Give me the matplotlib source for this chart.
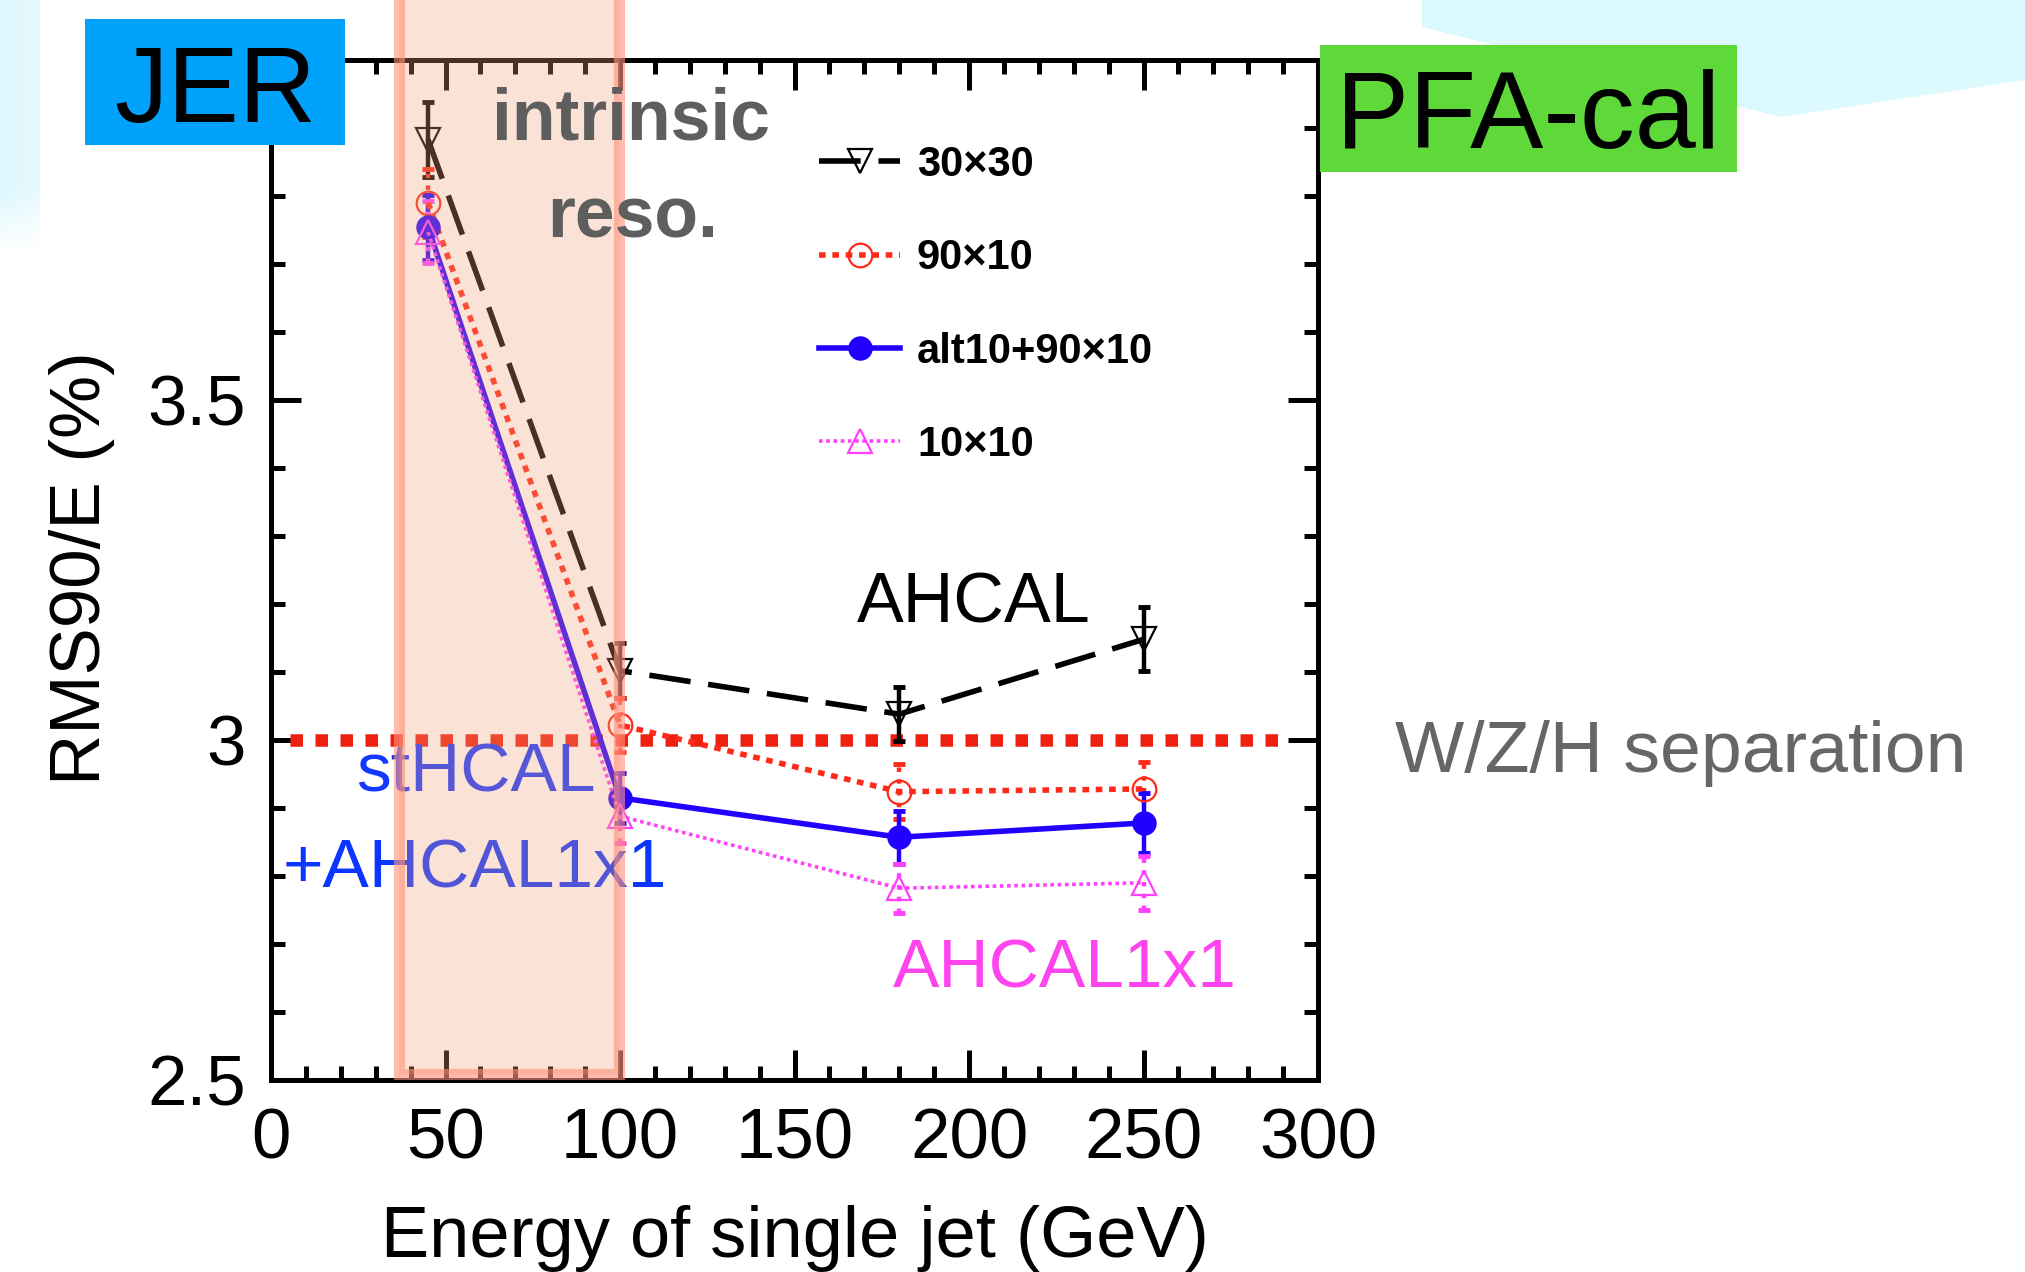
import numpy as np
import matplotlib
matplotlib.use("Agg")
import matplotlib.pyplot as plt
from matplotlib.patches import Rectangle, Polygon
from matplotlib.ticker import MultipleLocator, FixedLocator, FixedFormatter
import matplotlib.transforms as mtransforms

# ---------------- data ----------------
energy = [45, 100, 180, 250]
series_labels = ["30×30", "90×10", "alt10+90×10", "10×10"]
rms_30x30 = [3.883, 3.102, 3.038, 3.148]
err_30x30 = [0.055, 0.040, 0.040, 0.047]
rms_90x10 = [3.790, 3.022, 2.924, 2.928]
err_90x10 = [0.050, 0.040, 0.040, 0.040]
rms_alt10 = [3.754, 2.915, 2.857, 2.878]
err_alt10 = [0.048, 0.037, 0.039, 0.044]
rms_10x10 = [3.747, 2.888, 2.782, 2.790]
err_10x10 = [0.045, 0.040, 0.036, 0.040]

target_value = 3.0
target_span = [5.5, 290]
intrinsic_band = [36.6, 99.7]

xtick_values = [0, 50, 100, 150, 200, 250, 300]
xtick_labels = ["0", "50", "100", "150", "200", "250", "300"]
ytick_values = [2.5, 3.0, 3.5]
ytick_labels = ["2.5", "3", "3.5"]

# ---------------- figure ----------------
W, H = 2025, 1272
DPI = 100
plt.rcParams['font.family'] = ['Liberation Sans', 'DejaVu Sans']

fig = plt.figure(figsize=(W / DPI, H / DPI), dpi=DPI)
fig.patch.set_facecolor('white')


def fx(px):
    return px / W


def fy(py):
    return 1 - py / H


# background decoration
bg = fig.add_axes([0, 0, 1, 1], zorder=-10)
bg.set_xlim(0, W)
bg.set_ylim(H, 0)
bg.axis('off')
img = np.ones((H, W, 4))
img[..., 3] = 0
cols = np.arange(40)
rows = np.arange(250)
gx = 1 - 0.35 * cols / 40
gy = np.clip((250 - rows) / 60, 0, 1)
alpha = np.outer(gy, gx)
img[:250, :40, 0] = 0.86
img[:250, :40, 1] = 0.97
img[:250, :40, 2] = 0.995
img[:250, :40, 3] = alpha
bg.imshow(img, extent=(0, W, H, 0), aspect='auto', interpolation='bilinear')
bg.add_patch(Polygon([(1422, 0), (1422, 27), (1781, 117), (2025, 80), (2025, 0)],
                     closed=True, facecolor='#dcf9fd', edgecolor='none'))

ax_left, ax_right, ax_top, ax_bot = 271, 1318, 60, 1080
ax = fig.add_axes([fx(ax_left), fy(ax_bot), (ax_right - ax_left) / W, (ax_bot - ax_top) / H])
ax.set_xlim(0, 300)
ax.set_ylim(2.5, 4.0)

# target line
ax.plot(target_span, [target_value, target_value], color='#ee2010', lw=9,
        linestyle=(0, (1.0, 1.0)), solid_capstyle='butt', zorder=3)

# series
styles = [
    dict(data=rms_30x30, err=err_30x30, color='black', marker='v', mfc='none', ms=17,
         lw=4.0, ls=(0, (7.5, 3.2)), els='-'),
    dict(data=rms_90x10, err=err_90x10, color='#ff2a1a', marker='o', mfc='none', ms=17,
         lw=4.0, ls=(0, (1.2, 1.2)), els=':'),
    dict(data=rms_alt10, err=err_alt10, color='#2200ff', marker='o', mfc='#2200ff', ms=16,
         lw=4.0, ls='-', els='-'),
    dict(data=rms_10x10, err=err_10x10, color='#ff40ff', marker='^', mfc='none', ms=17,
         lw=2.6, ls=(0, (1, 1)), els=':'),
]
handles = []
for st, lab in zip(styles, series_labels):
    eb = ax.errorbar(energy, st['data'], yerr=st['err'], fmt='none', ecolor=st['color'],
                     elinewidth=3.2, capsize=4, capthick=3.5, zorder=4)
    for lc in eb[2]:
        lc.set_linestyle(st['els'])
    ln, = ax.plot(energy, st['data'], color=st['color'], lw=st['lw'], linestyle=st['ls'],
                  marker=st['marker'], markersize=st['ms'], markerfacecolor=st['mfc'],
                  markeredgecolor=st['color'], markeredgewidth=1.6, label=lab, zorder=5)
    handles.append(ln)

# axes styling
for sp in ax.spines.values():
    sp.set_linewidth(3.6)
ax.xaxis.set_major_locator(FixedLocator(xtick_values))
ax.xaxis.set_major_formatter(FixedFormatter(xtick_labels))
ax.xaxis.set_minor_locator(MultipleLocator(10))
ax.yaxis.set_major_locator(FixedLocator(ytick_values))
ax.yaxis.set_major_formatter(FixedFormatter(ytick_labels))
ax.yaxis.set_minor_locator(MultipleLocator(0.1))
ax.tick_params(which='both', direction='in', top=True, right=True, width=3.6, color='black')
ax.tick_params(which='major', length=21.6, labelsize=51)
ax.tick_params(which='minor', length=10)
ax.tick_params(axis='x', which='major', pad=20)
ax.tick_params(axis='y', which='major', pad=18)

# shaded intrinsic resolution band
trans = mtransforms.blended_transform_factory(ax.transData, ax.transAxes)
shade = Rectangle((intrinsic_band[0], 0.006), intrinsic_band[1] - intrinsic_band[0], 1.3,
                  transform=trans, clip_on=False,
                  facecolor=(240 / 255, 160 / 255, 120 / 255, 0.30),
                  edgecolor=(1.0, 146 / 255, 124 / 255, 0.62), linewidth=8, zorder=10)
ax.add_patch(shade)

# legend
leg = ax.legend(handles=handles, labels=series_labels, loc='upper left',
                bbox_to_anchor=(fx(819), fy(145)), bbox_transform=fig.transFigure,
                frameon=False, prop={'weight': 'bold', 'size': 30}, handlelength=1.95,
                handletextpad=0.4, labelspacing=1.28, borderpad=0, borderaxespad=0,
                numpoints=1)
leg.set_zorder(12)

# annotations under the shade
ax.text(fx(356), fy(792), "stHCAL", transform=fig.transFigure, fontsize=50,
        color='#1438ff', ha='left', va='baseline', zorder=6)
ax.text(fx(283), fy(887), "+AHCAL1x1", transform=fig.transFigure, fontsize=50,
        color='#0a36ff', ha='left', va='baseline', zorder=6)
ax.text(fx(857), fy(623), "AHCAL", transform=fig.transFigure, fontsize=50.5,
        color='black', ha='left', va='baseline', zorder=6)
ax.text(fx(893), fy(987), "AHCAL1x1", transform=fig.transFigure, fontsize=50,
        color='#ff44ee', ha='left', va='baseline', zorder=6)
ax.text(fx(631), fy(140), "intrinsic", transform=fig.transFigure, fontsize=51.5,
        fontweight='bold', color='#5e5e5e', ha='center', va='baseline', zorder=13)
ax.text(fx(633), fy(237), "reso.", transform=fig.transFigure, fontsize=51.5,
        fontweight='bold', color='#5e5e5e', ha='center', va='baseline', zorder=13)

fig.text(fx(1395), fy(772), "W/Z/H separation", fontsize=52.8, color='#666666',
         ha='left', va='baseline')

# axis labels
fig.text(fx(795), fy(1257), "Energy of single jet (GeV)", fontsize=52,
         ha='center', va='baseline')
fig.text(fx(100), fy(568), "RMS90/E (%)", fontsize=51, rotation=90,
         rotation_mode='anchor', ha='center', va='baseline')

# label boxes
fig.add_artist(Rectangle((fx(85), fy(145)), (345 - 85) / W, (145 - 19) / H,
                         transform=fig.transFigure, facecolor='#00a2fb',
                         edgecolor='none', zorder=20))
fig.text(fx(215), fy(122), "JER", fontsize=77, ha='center', va='baseline', zorder=21)
fig.add_artist(Rectangle((fx(1320), fy(172)), (1737 - 1320) / W, (172 - 45) / H,
                         transform=fig.transFigure, facecolor='#5fd93a',
                         edgecolor='none', zorder=20))
fig.text(fx(1528), fy(148), "PFA-cal", fontsize=79, ha='center', va='baseline', zorder=21)

fig.savefig("out.png", dpi=DPI)
